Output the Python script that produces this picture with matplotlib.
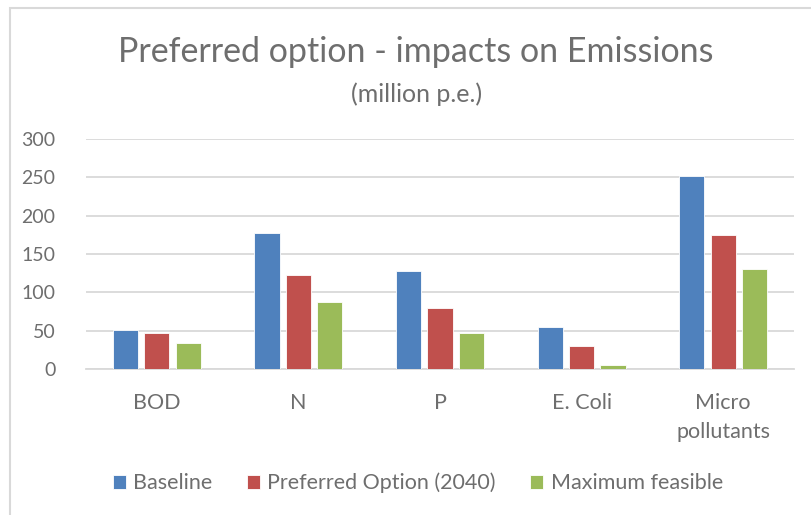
import numpy as np
import matplotlib
matplotlib.use("Agg")
import matplotlib.pyplot as plt
from matplotlib.patches import Rectangle

# values (million p.e.)
categories = ["BOD", "N", "P", "E. Coli", "Micro\npollutants"]
baseline = [51, 178, 128, 55, 252]
preferred = [47, 122, 79, 30, 175]
max_feasible = [34, 88, 47, 5, 130]
series_names = ["Baseline", "Preferred Option (2040)", "Maximum feasible"]
colors = ["#4F81BD", "#C0504D", "#9BBB59"]
yticks = [0, 50, 100, 150, 200, 250, 300]

plt.rcParams['font.family'] = ['Lato', 'DejaVu Sans']
text_col = "#6E6E6E"

fig = plt.figure(figsize=(8.11, 5.15), dpi=100)
W, H = 811, 515
ax = fig.add_axes([86 / W, 1 - 369 / H, (794 - 86) / W, (369 - 139) / H])

x = np.arange(len(categories))
step = 0.222
width = 0.178
for i, (vals, name, col) in enumerate(zip([baseline, preferred, max_feasible], series_names, colors)):
    ax.bar(x + (i - 1) * step, vals, width, color=col, label=name,
           edgecolor="white", linewidth=0.6, zorder=3)

ax.set_xlim(-0.5, len(categories) - 0.5)
ax.set_ylim(0, 300)
ax.set_yticks(yticks)
ax.set_xticks(x)
ax.set_xticklabels(categories, fontsize=15.5, color=text_col, linespacing=1.6)
ax.tick_params(axis='y', labelsize=14, colors=text_col, length=0, pad=22)
ax.tick_params(axis='x', length=0, pad=17)
ax.grid(axis='y', color="#D9D9D9", linewidth=1.3, zorder=0)
for s in ["top", "right", "left"]:
    ax.spines[s].set_visible(False)
ax.spines["bottom"].set_color("#D9D9D9")
ax.spines["bottom"].set_linewidth(1.3)

fig.text(416 / W, 1 - 52 / H, "Preferred option - impacts on Emissions",
         ha='center', va='center', fontsize=24.5, color=text_col)
fig.text(417 / W, 1 - 94 / H, "(million p.e.)",
         ha='center', va='center', fontsize=18, color=text_col)

leg = fig.legend(loc='center', bbox_to_anchor=(418 / W, 1 - 483 / H), ncol=3,
                 frameon=False, fontsize=15.5, handlelength=0.6, handleheight=0.6,
                 handletextpad=0.35, columnspacing=1.6)
for t in leg.get_texts():
    t.set_color(text_col)

# chart border
fig.patches.append(Rectangle((10 / W, -0.1), 1.2, 1 - 8 / H + 0.1, transform=fig.transFigure,
                             fill=False, edgecolor="#D9D9D9", linewidth=1.5))

fig.savefig("out.png", dpi=100)
